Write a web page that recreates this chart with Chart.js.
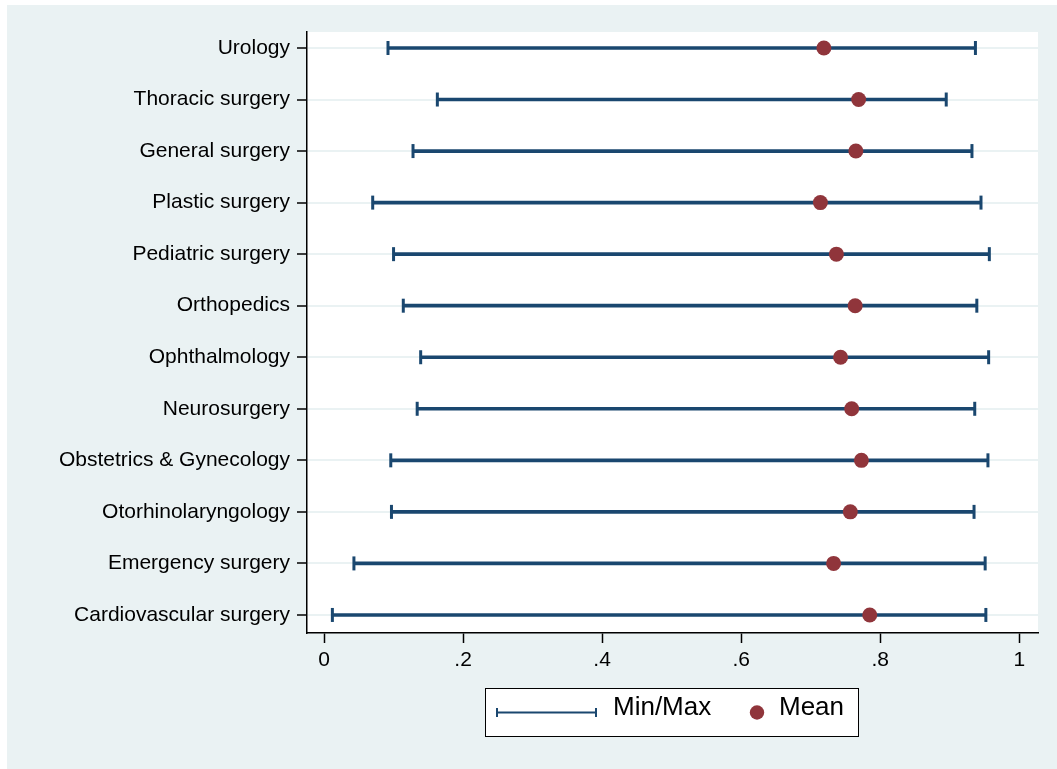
<!DOCTYPE html>
<html>
<head>
<meta charset="utf-8">
<title>Min/Max and mean by specialty</title>
<script src="https://cdn.jsdelivr.net/npm/chart.js@4.4.1/dist/chart.umd.min.js"></script>
<style>
  html, body { margin: 0; padding: 0; background: #ffffff; }
  #wrap { width: 1057px; height: 769px; position: relative; }
</style>
</head>
<body>
<div id="wrap"><canvas id="chart" width="1057" height="769"></canvas></div>
<script>
// Specialties, listed top to bottom
const specialties = [
  'Urology',
  'Thoracic surgery',
  'General surgery',
  'Plastic surgery',
  'Pediatric surgery',
  'Orthopedics',
  'Ophthalmology',
  'Neurosurgery',
  'Obstetrics & Gynecology',
  'Otorhinolaryngology',
  'Emergency surgery',
  'Cardiovascular surgery'
];

// Range and mean per specialty
const minValues  = [0.092, 0.163, 0.128, 0.070, 0.100, 0.114, 0.139, 0.134, 0.096, 0.097, 0.043, 0.012];
const maxValues  = [0.937, 0.895, 0.932, 0.945, 0.957, 0.939, 0.956, 0.936, 0.955, 0.935, 0.951, 0.952];
const meanValues = [0.719, 0.769, 0.765, 0.714, 0.737, 0.764, 0.743, 0.759, 0.773, 0.757, 0.733, 0.785];

// X axis tick positions
const xTicks = [0, 0.2, 0.4, 0.6, 0.8, 1];

const NAVY = '#1a476f';
const MAROON = '#90353b';
const BG = '#eaf2f3';
const FONT = '"Liberation Sans", Arial, Helvetica, sans-serif';

function fmtTick(v) {
  if (v === 0) return '0';
  if (v === 1) return '1';
  return String(Math.round(v * 10) / 10).replace(/^0/, '');
}

const rangeData = specialties.map((s, i) => ({ x: [minValues[i], maxValues[i]], y: i }));
const capData = [];
specialties.forEach((s, i) => {
  capData.push({ x: minValues[i], y: i });
  capData.push({ x: maxValues[i], y: i });
});
const meanData = specialties.map((s, i) => ({ x: meanValues[i], y: i }));

// Page background, white plot region and the legend box
const frame = {
  id: 'frame',
  beforeDraw(chart) {
    const ctx = chart.ctx;
    const a = chart.chartArea;
    ctx.save();
    ctx.fillStyle = '#ffffff';
    ctx.fillRect(0, 0, chart.width, chart.height);
    ctx.fillStyle = BG;
    ctx.fillRect(7, 5, chart.width - 7, chart.height - 5);
    ctx.fillStyle = '#ffffff';
    ctx.fillRect(a.left, a.top, a.right - a.left, a.bottom - a.top);
    ctx.restore();
  },
  afterDraw(chart) {
    const ctx = chart.ctx;
    ctx.save();
    // legend frame
    ctx.fillStyle = '#ffffff';
    ctx.fillRect(485, 688, 373, 49);
    ctx.strokeStyle = '#000000';
    ctx.lineWidth = 1;
    ctx.strokeRect(485.5, 688.5, 373, 48);
    // range key
    const ly = 712.5;
    ctx.strokeStyle = NAVY;
    ctx.lineWidth = 2;
    ctx.beginPath();
    ctx.moveTo(497, ly); ctx.lineTo(596, ly);
    ctx.moveTo(497, ly - 4.5); ctx.lineTo(497, ly + 4.5);
    ctx.moveTo(596, ly - 4.5); ctx.lineTo(596, ly + 4.5);
    ctx.stroke();
    ctx.fillStyle = '#000000';
    ctx.font = '26px ' + FONT;
    ctx.textBaseline = 'alphabetic';
    ctx.textAlign = 'left';
    ctx.fillText('Min/Max', 613, 715);
    // mean key
    ctx.fillStyle = MAROON;
    ctx.beginPath();
    ctx.arc(757, 712.5, 7.2, 0, Math.PI * 2);
    ctx.fill();
    ctx.fillStyle = '#000000';
    ctx.fillText('Mean', 779, 715);
    ctx.restore();
  }
};

new Chart(document.getElementById('chart'), {
  type: 'scatter',
  data: {
    datasets: [
      {
        label: 'Mean',
        type: 'scatter',
        data: meanData,
        pointStyle: 'circle',
        pointRadius: 7.5,
        pointHoverRadius: 7.5,
        pointBackgroundColor: MAROON,
        pointBorderWidth: 0,
        order: 0
      },
      {
        label: 'Caps',
        type: 'scatter',
        data: capData,
        pointStyle: 'line',
        rotation: 90,
        pointRadius: 7,
        pointHoverRadius: 7,
        pointBorderColor: NAVY,
        pointBorderWidth: 3,
        order: 1
      },
      {
        label: 'Min/Max',
        type: 'bar',
        indexAxis: 'y',
        data: rangeData,
        backgroundColor: NAVY,
        borderWidth: 0,
        barThickness: 3,
        order: 2
      }
    ]
  },
  options: {
    responsive: false,
    animation: false,
    events: [],
    layout: { padding: { left: 0, top: 32, right: 19, bottom: 86 } },
    plugins: {
      legend: { display: false },
      tooltip: { enabled: false },
      title: { display: false }
    },
    scales: {
      x: {
        type: 'linear',
        position: 'bottom',
        min: -0.0245,
        max: 1.027,
        offset: false,
        afterBuildTicks(scale) { scale.ticks = xTicks.map(v => ({ value: v })); },
        afterFit(scale) { scale.height = 50; },
        ticks: {
          callback: (v) => fmtTick(v),
          color: '#000000',
          font: { family: FONT, size: 21 },
          padding: 5,
          maxRotation: 0,
          autoSkip: false
        },
        grid: {
          offset: false,
          drawOnChartArea: false,
          drawTicks: true,
          tickLength: 10,
          tickColor: '#000000',
          tickWidth: 1.5
        },
        border: { display: true, color: '#000000', width: 1.5 }
      },
      y: {
        type: 'linear',
        position: 'left',
        reverse: true,
        min: -0.31,
        max: 11.35,
        offset: false,
        afterBuildTicks(scale) { scale.ticks = specialties.map((s, i) => ({ value: i })); },
        afterFit(scale) { scale.width = 307; },
        ticks: {
          callback: (v) => specialties[v] || '',
          color: '#000000',
          font: { family: FONT, size: 21 },
          padding: 7,
          autoSkip: false
        },
        grid: {
          offset: false,
          drawOnChartArea: true,
          color: '#eaf2f3',
          lineWidth: 2,
          drawTicks: true,
          tickLength: 10,
          tickColor: '#000000',
          tickWidth: 1.5
        },
        border: { display: true, color: '#000000', width: 1.5 }
      }
    }
  },
  plugins: [frame]
});
</script>
</body>
</html>
